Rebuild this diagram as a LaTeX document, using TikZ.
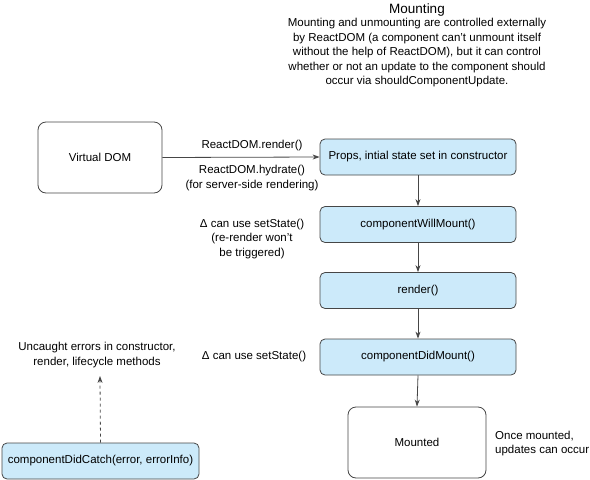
\documentclass[tikz,border=0pt]{standalone}
\usepackage{fontspec}
\setmainfont{Liberation Sans}
\usetikzlibrary{arrows.meta}
\definecolor{boxblue}{RGB}{204,234,250}
\definecolor{edge}{RGB}{70,70,70}
\begin{document}
\begin{tikzpicture}[x=1pt,y=-1pt,
  every node/.style={font=\fontsize{11.5}{14.5}\selectfont, inner sep=0pt},
  bluebox/.style={draw=edge, fill=boxblue, rounded corners=5pt, line width=0.8pt, minimum width=196pt, minimum height=36pt},
  whitebox/.style={draw=edge, fill=white, rounded corners=8pt, line width=0.8pt, minimum height=71pt},
  lbl/.style={align=center},
  arr/.style={draw=edge, line width=0.8pt, -{Stealth[length=7pt,width=5pt]}}
]
\path[use as bounding box] (0,0) rectangle (590,480);

\node[lbl, font=\fontsize{13.5}{16}\selectfont] (title) at (417,10) {Mounting};
\node[lbl] (desc) at (417,53) {Mounting and unmounting are controlled externally\\by ReactDOM (a component can’t unmount itself\\without the help of ReactDOM), but it can control\\whether or not an update to the component should\\occur via shouldComponentUpdate.};

\node[whitebox, minimum width=124pt] (vdom) at (100,157.5) {Virtual DOM};
\node[bluebox] (props) at (418,157) {Props, intial state set in constructor};
\node[bluebox] (cwm) at (418,224.5) {componentWillMount()};
\node[bluebox] (render) at (418,290.5) {render()};
\node[bluebox] (cdm) at (418,357) {componentDidMount()};
\node[whitebox, minimum width=138pt] (mounted) at (417,442.5) {Mounted};
\node[bluebox, minimum width=197pt] (catch) at (100.5,461) {componentDidCatch(error, errorInfo)};

\draw[arr] (vdom.east) -- (props.west);
\draw[arr] (props.south) -- (cwm.north);
\draw[arr] (cwm.south) -- (render.north);
\draw[arr] (render.south) -- (cdm.north);
\draw[arr] (cdm.south) -- (mounted.north);
\coordinate (errtop) at (100,376);
\draw[arr, dashed] (catch.north) -- (errtop);

\node[lbl] (lrender) at (252,146) {ReactDOM.render()};
\node[lbl] (lhydrate) at (252,178) {ReactDOM.hydrate()\\(for server-side rendering)};
\node[lbl] (lwill) at (252,239) {Δ can use setState()\\(re-render won’t\\be triggered)};
\node[lbl] (ldid) at (254,357) {Δ can use setState()};
\node[lbl] (lerr) at (97,355) {Uncaught errors in constructor,\\render, lifecycle methods};
\node[align=left, anchor=west] (lonce) at (495,443.5) {Once mounted,\\updates can occur};
\end{tikzpicture}
\end{document}
